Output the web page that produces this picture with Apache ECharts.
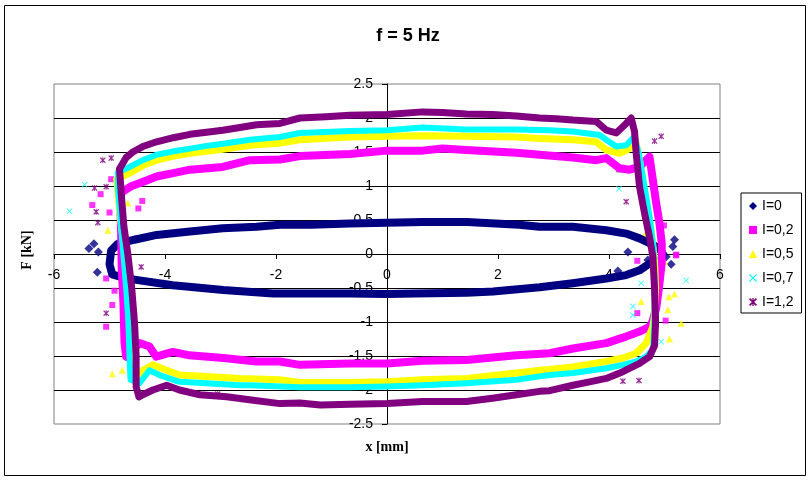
<!DOCTYPE html>
<html>
<head>
<meta charset="utf-8">
<title>f = 5 Hz</title>
<script src="https://cdn.jsdelivr.net/npm/echarts@6/dist/echarts.min.js"></script>
<style>
  html, body { margin: 0; padding: 0; background: #fff; }
  #chart { width: 812px; height: 482px; }
</style>
</head>
<body>
<div id="chart"></div>
<script>
// x [mm], F [kN] read from the measured loops, one loop per current I
const loopI0 = [
  [-4.55, 0.21], [-4.15, 0.28], [-3.55, 0.33], [-2.96, 0.38], [-2.35, 0.40], [-1.93, 0.43],
  [-1.37, 0.43], [-0.67, 0.45], [0, 0.46], [0.64, 0.47], [1.44, 0.47], [2.38, 0.43],
  [2.75, 0.40], [3.35, 0.40], [3.95, 0.35], [4.31, 0.30], [4.55, 0.23], [4.73, 0.16],
  [4.91, 0.08], [4.97, 0.00], [4.93, -0.10], [4.73, -0.14],
  [4.55, -0.24], [4.31, -0.31], [3.95, -0.36], [3.35, -0.43], [2.75, -0.49], [1.91, -0.55],
  [1.44, -0.57], [0.51, -0.58], [0, -0.59], [-0.67, -0.58], [-1.37, -0.58], [-2.05, -0.58],
  [-2.95, -0.53], [-3.86, -0.46], [-4.52, -0.38],
  [-4.75, -0.35], [-4.95, -0.30], [-5.00, -0.15], [-4.97, 0.05], [-4.85, 0.15], [-4.55, 0.21]
];
const strayI0 = [
  [-5.37, 0.08], [-5.28, 0.15], [-5.20, 0.03], [-5.22, -0.27], [5.18, 0.21], [5.15, 0.11],
  [5.12, -0.15], [4.70, -0.09], [4.34, 0.03], [5.03, -0.04], [4.16, -0.25]
];

const loopI02 = [
  [-4.79, 0.90], [-4.70, 0.95], [-4.60, 1.00], [-4.46, 1.04], [-4.15, 1.14], [-3.85, 1.19],
  [-3.55, 1.24], [-2.96, 1.28], [-2.47, 1.38], [-1.93, 1.39], [-1.57, 1.44], [-0.67, 1.47],
  [0, 1.52], [0.64, 1.52], [1.0, 1.55], [1.43, 1.53], [2.33, 1.49], [2.75, 1.46],
  [3.35, 1.42], [3.77, 1.38], [3.95, 1.41], [4.19, 1.26], [4.37, 1.24], [4.55, 1.28], [4.73, 1.43],
  [4.79, 1.09], [4.85, 0.75], [4.91, 0.45], [4.95, 0.16], [4.95, -0.13], [4.90, -0.50],
  [4.85, -0.80], [4.78, -1.00], [4.73, -1.07],
  [4.55, -1.14], [4.25, -1.23], [3.95, -1.31], [3.35, -1.39], [2.93, -1.46], [2.33, -1.49],
  [1.43, -1.56], [0.64, -1.57], [0, -1.61], [-0.67, -1.61], [-1.57, -1.63], [-1.93, -1.58],
  [-2.35, -1.58], [-2.95, -1.53], [-3.56, -1.49], [-3.86, -1.44], [-4.16, -1.51], [-4.28, -1.36],
  [-4.46, -1.31], [-4.70, -1.51],
  [-4.73, -1.30], [-4.75, -0.70], [-4.78, -0.20], [-4.79, 0.30], [-4.80, 0.60], [-4.79, 0.90]
];
const strayI02 = [
  [-5.31, 0.72], [-5.16, 0.88], [-4.41, 0.78], [-4.48, 0.67], [-5.00, 0.61], [-4.97, 1.10],
  [-4.50, 0.23], [-5.06, -0.36], [-4.91, -0.54], [-4.95, -0.75], [-5.06, -1.07],
  [5.21, -0.01], [4.99, 0.42], [4.51, -0.10], [5.02, -0.98], [4.51, -0.87], [5.21, -0.02]
];

const loopI05 = [
  [-4.87, 1.10], [-4.64, 1.19], [-4.40, 1.30], [-4.15, 1.38], [-3.85, 1.44], [-3.55, 1.48],
  [-2.96, 1.54], [-2.47, 1.60], [-1.93, 1.63], [-1.57, 1.68], [-0.67, 1.72], [0, 1.73],
  [0.64, 1.74], [1.43, 1.73], [2.33, 1.72], [2.75, 1.70], [3.35, 1.68], [3.77, 1.65],
  [3.95, 1.53], [4.19, 1.48], [4.37, 1.55], [4.49, 1.63],
  [4.58, 1.24], [4.67, 0.75], [4.76, 0.35], [4.82, -0.10], [4.84, -0.50], [4.82, -0.90], [4.79, -1.07],
  [4.67, -1.31], [4.49, -1.46], [4.25, -1.53], [3.95, -1.58], [3.35, -1.66], [2.93, -1.70],
  [2.75, -1.71], [2.33, -1.75], [1.43, -1.83], [0.64, -1.85], [0, -1.88], [-0.67, -1.89],
  [-1.57, -1.89], [-1.93, -1.85], [-2.65, -1.83], [-3.25, -1.80], [-3.74, -1.78], [-3.97, -1.71],
  [-4.22, -1.63], [-4.40, -1.71], [-4.52, -1.80],
  [-4.60, -1.56], [-4.62, -1.00], [-4.66, -0.50], [-4.72, 0.00], [-4.80, 0.50], [-4.87, 1.10]
];
const strayI05 = [
  [-5.03, 0.35], [-4.67, 0.75], [-4.97, 0.06], [-4.82, -0.28], [-4.95, -1.76], [-4.77, -1.71],
  [-4.77, -0.65], [5.18, -0.59], [5.06, -0.82], [5.30, -1.02], [5.09, -1.25], [4.58, -0.70],
  [5.00, -0.11], [5.08, -0.63], [4.64, 0.28], [4.95, 0.20]
];

const loopI07 = [
  [-4.85, 1.20], [-4.64, 1.28], [-4.40, 1.38], [-4.15, 1.46], [-3.85, 1.51], [-3.55, 1.55],
  [-3.25, 1.59], [-2.96, 1.62], [-2.47, 1.68], [-1.93, 1.72], [-1.57, 1.78], [-0.67, 1.81],
  [0, 1.82], [0.64, 1.86], [1.43, 1.83], [2.33, 1.83], [2.93, 1.82], [3.35, 1.80], [3.83, 1.75],
  [4.0, 1.65], [4.13, 1.58], [4.31, 1.60], [4.46, 1.73],
  [4.55, 1.43], [4.64, 0.99], [4.73, 0.55], [4.80, 0.10], [4.82, -0.40], [4.82, -0.90],
  [4.80, -1.30], [4.79, -1.41],
  [4.67, -1.51], [4.49, -1.58], [4.25, -1.63], [3.95, -1.68], [3.35, -1.75], [2.93, -1.78],
  [2.75, -1.80], [2.33, -1.85], [1.43, -1.90], [0.64, -1.93], [0, -1.95], [-0.67, -1.96],
  [-1.57, -1.96], [-2.47, -1.93], [-2.65, -1.93], [-3.25, -1.90], [-3.74, -1.88], [-4.10, -1.78],
  [-4.28, -1.71], [-4.46, -1.90],
  [-4.62, -1.85], [-4.64, -1.50], [-4.66, -1.00], [-4.70, -0.50], [-4.75, 0.00], [-4.80, 0.50],
  [-4.85, 1.00], [-4.85, 1.20]
];
const strayI07 = [
  [-5.45, 1.02], [-5.72, 0.63], [4.18, 0.96], [5.39, -0.39], [4.58, -0.43], [4.43, -0.77],
  [4.43, -0.90], [4.94, -1.29]
];

const loopI12 = [
  [-4.82, 1.25], [-4.70, 1.42], [-4.58, 1.50], [-4.40, 1.58], [-4.15, 1.65], [-3.85, 1.71],
  [-3.55, 1.76], [-3.25, 1.79], [-2.96, 1.82], [-2.65, 1.86], [-2.35, 1.90], [-1.93, 1.92],
  [-1.57, 2.00], [-1.10, 2.02], [-0.67, 2.04], [0, 2.05], [0.64, 2.09], [1.0, 2.08],
  [1.43, 2.06], [1.90, 2.05], [2.33, 2.03], [2.75, 2.00], [3.05, 1.99], [3.35, 1.97],
  [3.77, 1.95], [3.95, 1.82], [4.13, 1.78], [4.31, 1.92], [4.40, 2.00], [4.46, 1.80],
  [4.49, 1.48], [4.55, 0.99], [4.64, 0.60], [4.73, 0.25], [4.79, -0.04], [4.82, -0.50],
  [4.84, -1.00], [4.82, -1.35], [4.73, -1.51],
  [4.55, -1.61], [4.25, -1.73], [3.95, -1.83], [3.65, -1.88], [3.35, -1.93], [2.93, -2.01],
  [2.75, -2.02], [2.33, -2.07], [1.90, -2.12], [1.43, -2.17], [0.64, -2.17], [0, -2.20],
  [-0.67, -2.21], [-1.20, -2.22], [-1.57, -2.19], [-1.93, -2.20], [-2.41, -2.15], [-2.89, -2.10],
  [-3.37, -2.07], [-3.74, -2.00], [-3.97, -1.93], [-4.22, -2.00], [-4.40, -2.07], [-4.47, -2.10],
  [-4.52, -1.95], [-4.52, -1.50], [-4.55, -1.00], [-4.60, -0.50], [-4.67, 0.00], [-4.74, 0.40],
  [-4.78, 0.80], [-4.82, 1.25]
];
const strayI12 = [
  [-5.12, 1.38], [-4.97, 1.41], [-5.27, 0.97], [-5.24, 0.62], [-5.21, 0.46], [-5.06, 0.99],
  [-4.43, -0.19], [4.82, 1.66], [4.94, 1.73], [4.18, 1.24], [4.31, 0.77], [4.85, 0.85],
  [4.54, -1.86], [4.25, -1.87], [-5.06, -0.87], [-3.05, -2.06]
];

const seriesNames = ['I=0', 'I=0,2', 'I=0,5', 'I=0,7', 'I=1,2'];
const seriesColors = ['#000080', '#FF00FF', '#FFFF00', '#00FFFF', '#800080'];

const xTicks = { min: -6, max: 6, step: 2 };
const yTicks = { min: -2.5, max: 2.5, step: 0.5 };

// marker shapes
const crossPath = 'path://M0,1 L1,0 L5,4 L9,0 L10,1 L6,5 L10,9 L9,10 L5,6 L1,10 L0,9 L4,5 Z';
const starPath = 'path://M0,1.5 L1.5,0 L5,3.5 L8.5,0 L10,1.5 L6.5,5 L10,8.5 L8.5,10 L5,6.5 L1.5,10 L0,8.5 L3.5,5 Z M4.2,0 L5.8,0 L5.8,10 L4.2,10 Z';
const symbols = ['diamond', 'rect', 'triangle', crossPath, starPath];
const symbolSizes = [9, 6, 7, 6, 6];
const bandWidths = [8, 8, 7, 6, 7];

const loops = [loopI0, loopI02, loopI05, loopI07, loopI12];
const strays = [strayI0, strayI02, strayI05, strayI07, strayI12];

const series = [];
seriesNames.forEach((name, i) => {
  const band = {
    name: name,
    type: 'line',
    data: loops[i],
    showSymbol: false,
    symbol: 'none',
    smooth: false,
    color: seriesColors[i],
    lineStyle: { color: seriesColors[i], width: bandWidths[i], cap: 'round', join: 'round' },
    emphasis: { disabled: true },
    silent: true
  };
  if (i === 0) {
    // vertical axis line at x = 0, kept under the loops
    band.markLine = {
      silent: true,
      symbol: 'none',
      z: 1,
      label: { show: false },
      lineStyle: { color: '#000', width: 1, type: 'solid' },
      data: [{ xAxis: 0 }]
    };
  }
  series.push(band);
  series.push({
    name: name,
    type: 'scatter',
    data: strays[i],
    symbol: symbols[i],
    symbolSize: symbolSizes[i],
    color: seriesColors[i],
    itemStyle: { color: seriesColors[i] },
    emphasis: { disabled: true },
    silent: true
  });
});

const labelFont = { color: '#000', fontFamily: '"Liberation Sans", Arial, sans-serif', fontSize: 14 };

// plot box in pixels; axes cross at (0, 0) which is the centre of the box
const plotLeft = 54, plotTop = 84, plotW = 666, plotH = 340;

const option = {
  animation: false,
  backgroundColor: '#fff',
  title: {
    text: 'f = 5 Hz',
    left: 403,
    top: 22,
    textAlign: 'center',
    textStyle: { color: '#000', fontFamily: '"Liberation Sans", Arial, sans-serif', fontSize: 18, fontWeight: 'bold' }
  },
  legend: {
    orient: 'vertical',
    left: 741,
    top: 193,
    padding: [6, 8, 4, 8],
    itemWidth: 8,
    itemHeight: 8,
    itemGap: 10,
    borderColor: '#000',
    borderWidth: 1,
    backgroundColor: '#fff',
    selectedMode: false,
    textStyle: labelFont,
    data: seriesNames.map((name, i) => ({ name: name, icon: symbols[i] }))
  },
  grid: {
    left: plotLeft,
    top: plotTop,
    width: plotW,
    height: plotH,
    show: true,
    borderColor: '#808080',
    borderWidth: 1
  },
  xAxis: {
    type: 'value',
    min: xTicks.min,
    max: xTicks.max,
    interval: xTicks.step,
    position: 'bottom',
    offset: -plotH / 2,
    axisLine: { show: true, onZero: false, lineStyle: { color: '#000', width: 1 } },
    axisTick: { show: true, length: 5, lineStyle: { color: '#000' } },
    axisLabel: Object.assign({ margin: 14 }, labelFont),
    splitLine: { show: false }
  },
  yAxis: {
    type: 'value',
    min: yTicks.min,
    max: yTicks.max,
    interval: yTicks.step,
    position: 'left',
    offset: -plotW / 2,
    axisLine: { show: true, onZero: false, lineStyle: { color: '#000', width: 1 } },
    axisTick: { show: true, length: 5, lineStyle: { color: '#000' } },
    axisLabel: Object.assign({ margin: 14, formatter: (v) => String(v) }, labelFont),
    splitLine: { show: true, showMinLine: false, showMaxLine: false, lineStyle: { color: '#000', width: 1 } }
  },
  graphic: [
    {
      type: 'rect',
      shape: { x: 4.5, y: 5.5, width: 801, height: 470 },
      style: { fill: 'none', stroke: '#000', lineWidth: 1 },
      silent: true,
      z: 100
    },
    {
      type: 'text',
      x: 387,
      y: 447,
      style: {
        text: 'x [mm]',
        font: 'bold 14px "Liberation Serif", "Times New Roman", serif',
        fill: '#000',
        align: 'center',
        verticalAlign: 'middle'
      }
    },
    {
      type: 'text',
      x: 27,
      y: 250,
      rotation: Math.PI / 2,
      style: {
        text: 'F [kN]',
        font: 'bold 14px "Liberation Serif", "Times New Roman", serif',
        fill: '#000',
        align: 'center',
        verticalAlign: 'middle'
      }
    }
  ],
  series: series
};

const myChart = echarts.init(document.getElementById('chart'), null, { renderer: 'canvas' });
myChart.setOption(option);
</script>
</body>
</html>
